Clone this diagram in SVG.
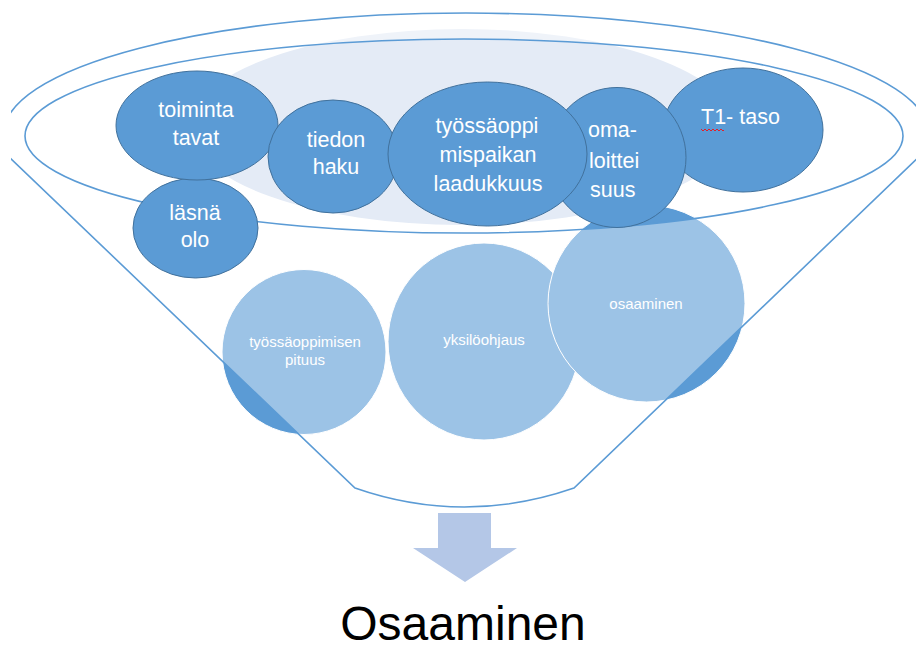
<svg xmlns="http://www.w3.org/2000/svg" width="916" height="652" viewBox="0 0 916 652">
<defs>
<clipPath id="frame"><rect x="11" y="0" width="905" height="652"/></clipPath>
<style>
.top{fill:#5B9BD5;stroke:#41719C;stroke-width:1}
.bot{fill:#5B9BD5;stroke:#FFFFFF;stroke-width:1}
.line{fill:none;stroke:#5B9BD5;stroke-width:1.6}
.big{font-family:"Liberation Sans",Arial,sans-serif;font-size:21.5px;fill:#FFFFFF;text-anchor:middle}
.small{font-family:"Liberation Sans",Arial,sans-serif;font-size:15px;fill:#FFFFFF;text-anchor:middle}
</style>
</defs>
<rect width="916" height="652" fill="#FFFFFF"/>
<ellipse id="glow" cx="462" cy="127" rx="272" ry="98" fill="#E4EBF6"/>
<g id="n-pituus"><ellipse class="bot" cx="304" cy="352" rx="82" ry="82.5"/></g>
<g id="n-yksilo"><ellipse class="bot" cx="484" cy="341.5" rx="96" ry="98.5"/></g>
<g id="n-osaaminen"><ellipse class="bot" cx="646.5" cy="303.5" rx="98.5" ry="98.5"/></g>
<g id="funnel" clip-path="url(#frame)">
<path d="M355 488 L8 156 L4 133 A462 120 0 0 1 928 133 L924 152 L574 488 Q464 526 355 488 Z M25 136 A439 97 0 1 0 903 136 A439 97 0 1 0 25 136 Z" fill="#FFFFFF" fill-opacity="0.4" fill-rule="evenodd"/>
<path class="line" d="M4 133 A462 120 0 0 1 928 133"/>
<path class="line" d="M8 156 L355 488 Q464 526 574 488 L924 152"/>
<ellipse class="line" cx="464" cy="136" rx="439" ry="97"/>
</g>
<g class="small">
<text x="305" y="347">työssäoppimisen</text>
<text x="305" y="365">pituus</text>
<text x="484" y="345">yksilöohjaus</text>
<text x="646" y="309">osaaminen</text>
</g>
<g id="n-lasna"><ellipse class="top" cx="195.5" cy="228" rx="62.5" ry="50"/>
<text class="big" x="195" y="220">läsnä</text><text class="big" x="195" y="247">olo</text></g>
<g id="n-toiminta"><ellipse class="top" cx="197" cy="125.5" rx="81" ry="54.5"/>
<text class="big" x="196" y="117">toiminta</text><text class="big" x="196" y="145">tavat</text></g>
<g id="n-tiedon"><ellipse class="top" cx="333" cy="156.5" rx="65" ry="56.5"/>
<text class="big" x="336" y="147">tiedon</text><text class="big" x="336" y="174">haku</text></g>
<g id="n-t1"><ellipse class="top" cx="743" cy="130" rx="80" ry="62"/>
<text class="big" x="701" y="124" style="text-anchor:start">T1- taso</text>
<path d="M701 129 l2 2 l2 -2 l2 2 l2 -2 l2 2 l2 -2 l2 2 l2 -2 l2 2 l2 -2 l2 2 l1 -1" fill="none" stroke="#E0202A" stroke-width="1"/></g>
<g id="n-oma"><ellipse class="top" cx="617" cy="157.5" rx="69" ry="70"/>
<text class="big" x="588" y="137" style="text-anchor:start">oma-</text>
<text class="big" x="589" y="168" style="text-anchor:start">loittei</text>
<text class="big" x="590" y="197" style="text-anchor:start">suus</text></g>
<g id="n-tyossaoppi"><ellipse class="top" cx="487.5" cy="154" rx="99.5" ry="72"/>
<text class="big" x="487" y="133">työssäoppi</text><text class="big" x="488" y="162">mispaikan</text><text class="big" x="488" y="191">laadukkuus</text></g>
<g id="connectors">
<path d="M438 513 L491 513 L491 548 L517 548 L465 582 L413 548 L438 548 Z" fill="#B4C7E7"/>
</g>
<g id="n-result"><text x="463" y="640" font-family="'Liberation Sans',Arial,sans-serif" font-size="48" fill="#000000" text-anchor="middle">Osaaminen</text></g>
</svg>
